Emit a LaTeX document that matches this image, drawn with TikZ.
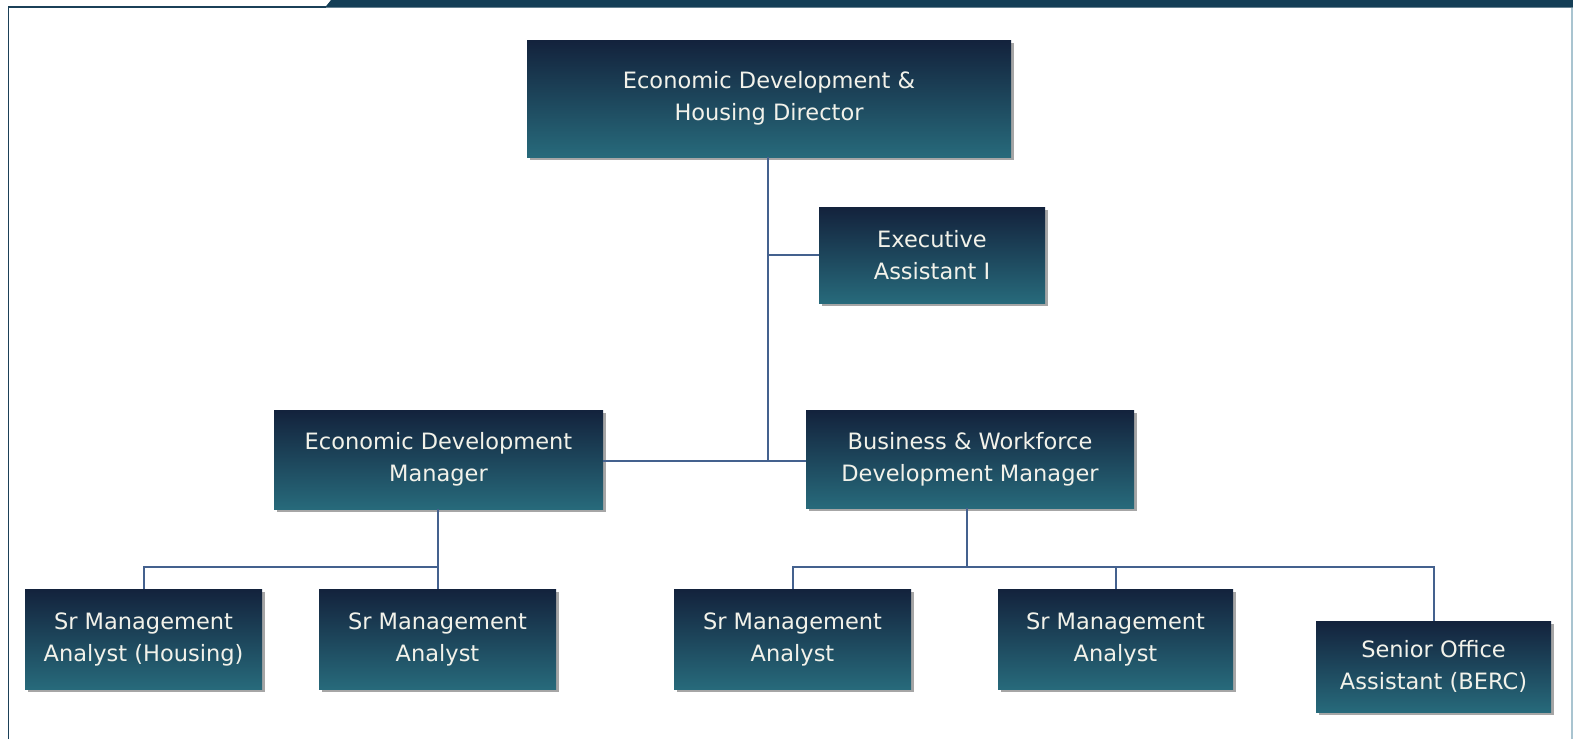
\documentclass[tikz,border=0pt]{standalone}
\usepackage{fontspec}
\setmainfont{DejaVu Sans}
\usetikzlibrary{shadows}
\definecolor{boxtop}{HTML}{13223C}
\definecolor{boxbot}{HTML}{276A7B}
\definecolor{linec}{HTML}{44618E}
\definecolor{framedark}{HTML}{143E56}
\definecolor{frameline}{HTML}{1B4058}
\definecolor{frameright}{HTML}{A9C4D0}
\definecolor{txt}{HTML}{F2F2EA}
\tikzset{
  orgbox/.style={rectangle, inner sep=0pt, top color=boxtop, bottom color=boxbot,
    text=txt, align=center, font=\fontsize{22.5}{32}\selectfont,
    drop shadow={shadow xshift=3pt, shadow yshift=-3pt, fill=black, opacity=0.35}},
  conn/.style={draw=linec, line width=2pt}
}
\begin{document}
\begin{tikzpicture}[x=1pt, y=-1pt]
\useasboundingbox (0,0) rectangle (1573,739);
% frame
\fill[framedark] (325,7.5) -- (331,0) -- (1573,0) -- (1573,7.5) -- cycle;
\draw[frameline, line width=1.6pt] (8.5,739) -- (8.5,6.8) -- (326,6.8);
\draw[frameright, line width=1.5pt] (1572.2,7.5) -- (1572.2,739);
% nodes
\node[orgbox, minimum width=484pt, minimum height=117pt] (dir) at (769,98.5) {Economic Development \&\\Housing Director};
\node[orgbox, minimum width=226pt, minimum height=96pt] (exec) at (932,255) {Executive\\Assistant I};
\node[orgbox, minimum width=329pt, minimum height=99pt] (edm) at (438.5,459.5) {Economic Development\\Manager};
\node[orgbox, minimum width=328pt, minimum height=98pt] (bwdm) at (970,459) {Business \& Workforce\\Development Manager};
\node[orgbox, minimum width=237pt, minimum height=100pt] (smah) at (143.5,639) {Sr Management\\Analyst (Housing)};
\node[orgbox, minimum width=237pt, minimum height=100pt] (sma1) at (437.5,639) {Sr Management\\Analyst};
\node[orgbox, minimum width=237pt, minimum height=100pt] (sma2) at (792.5,639) {Sr Management\\Analyst};
\node[orgbox, minimum width=235pt, minimum height=100pt] (sma3) at (1115.5,639) {Sr Management\\Analyst};
\node[orgbox, minimum width=235pt, minimum height=91pt] (soa) at (1433.5,666.5) {Senior Office\\Assistant (BERC)};
% connectors
\coordinate (j1) at (768,461);
\coordinate (b1) at (438,567);
\coordinate (b2) at (967,567);
\draw[conn] (dir.south -| j1) -- (j1);
\draw[conn] (j1 |- exec.west) -- (exec.west);
\draw[conn] (edm.east |- j1) -- (bwdm.west |- j1);
\draw[conn] (edm.south -| b1) -- (b1);
\draw[conn] (smah.north) |- (b1) -- (b1 |- sma1.north);
\draw[conn] (bwdm.south -| b2) -- (b2);
\draw[conn] (sma2.north) |- (soa.north |- b2) -- (soa.north);
\draw[conn] (sma3.north) -- (sma3.north |- b2);
\end{tikzpicture}
\end{document}
